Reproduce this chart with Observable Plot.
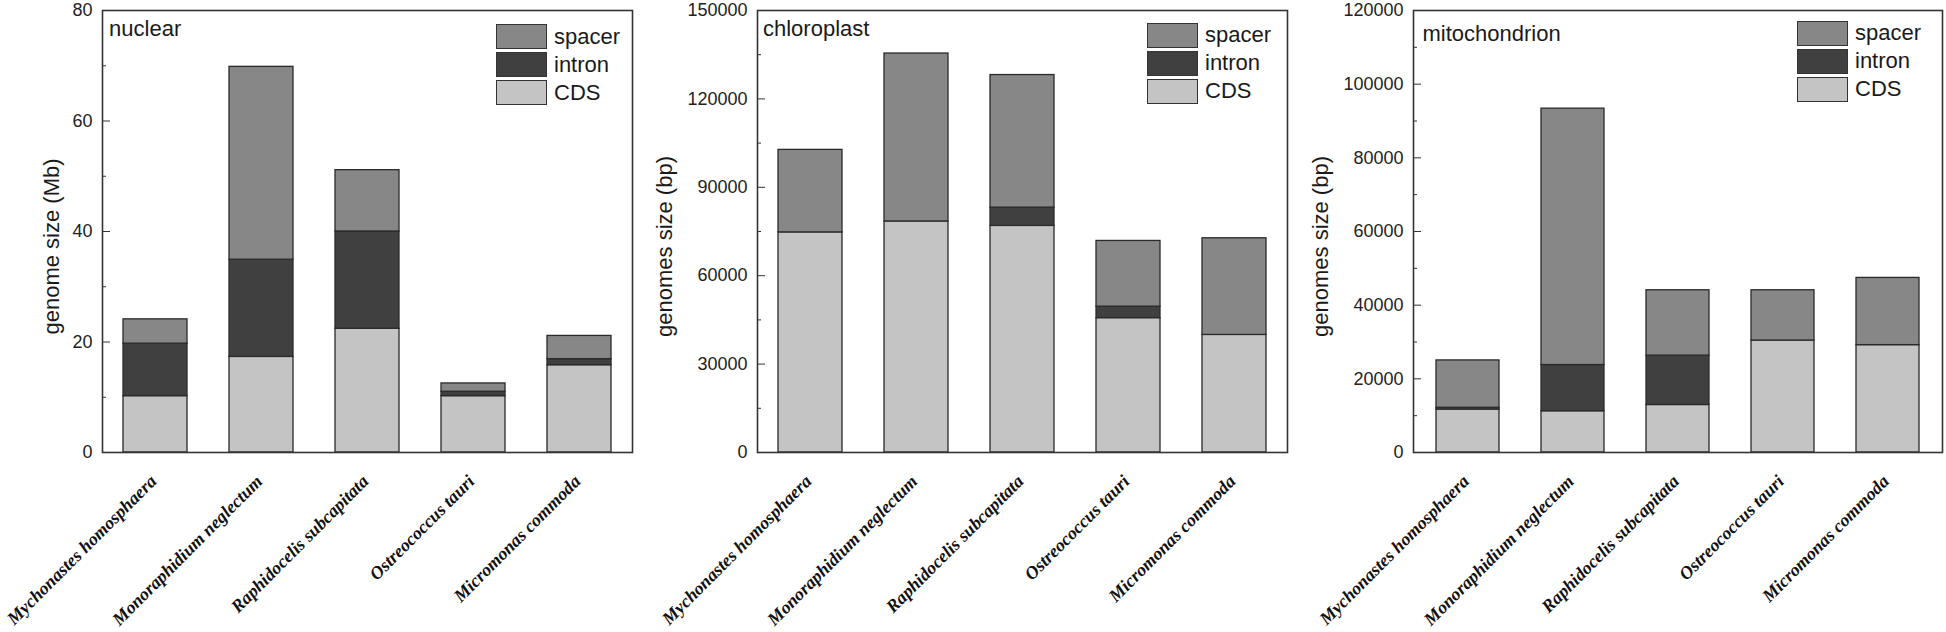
<!DOCTYPE html>
<html><head><meta charset="utf-8">
<script src="https://cdn.jsdelivr.net/npm/d3@7"></script>
<script src="https://cdn.jsdelivr.net/npm/@observablehq/plot@0.6"></script>
<style>
body{margin:0;background:#fff;}
#wrap{position:relative;width:1946px;height:632px;overflow:hidden;font-family:"Liberation Sans",Arial,sans-serif;background:#fff;}
.panel{position:absolute;top:0;}
.panel svg{overflow:visible;}
.legend{position:absolute;}
.legend .row{display:flex;align-items:center;height:28px;}
.legend .sw{width:51px;height:25px;border:1.5px solid #333;box-sizing:border-box;margin-right:7px;}
.legend span{font-size:22px;color:#1a1a1a;line-height:28px;}
</style></head><body><div id="wrap"></div>
<script>
// ---------- data ----------
const species = ["Mychonastes homosphaera","Monoraphidium neglectum","Raphidocelis subcapitata","Ostreococcus tauri","Micromonas commoda"];
const types = ["CDS","intron","spacer"];
const legendOrder = ["spacer","intron","CDS"];
const typeColors = ["#c4c4c4","#404040","#878787"];

const nuclearCDS    = [10.2, 17.3, 22.4, 10.2, 15.8];
const nuclearIntron = [9.5, 17.6, 17.6, 0.8, 1.1];
const nuclearSpacer = [4.4, 34.9, 11.1, 1.5, 4.2];

const chloroplastCDS    = [74700, 78400, 76900, 45600, 39900];
const chloroplastIntron = [0, 0, 6200, 3900, 0];
const chloroplastSpacer = [28000, 57000, 45000, 22300, 32800];

const mitoCDS    = [11650, 11200, 12900, 30400, 29150];
const mitoIntron = [500, 12550, 13400, 0, 0];
const mitoSpacer = [12850, 69600, 17750, 13650, 18250];

const nuclearTicks = [0, 20, 40, 60, 80];
const nuclearMinor = [10, 30, 50, 70];
const chloroplastTicks = [0, 30000, 60000, 90000, 120000, 150000];
const chloroplastMinor = [15000, 45000, 75000, 105000, 135000];
const mitoTicks = [0, 20000, 40000, 60000, 80000, 100000, 120000];
const mitoMinor = [10000, 30000, 50000, 70000, 90000, 110000];

const panelNames = ["nuclear", "chloroplast", "mitochondrion"];
const yLabels = ["genome size (Mb)", "genomes size (bp)", "genomes size (bp)"];

// ---------- layout ----------
const panels = [
  {name: panelNames[0], ylabel: yLabels[0], cds: nuclearCDS, intron: nuclearIntron, spacer: nuclearSpacer,
   ticks: nuclearTicks, minor: nuclearMinor, left: 0, width: 640, ml: 102, mr: 8, titleDx: 6.6, titleBase: 35, ylabDx: -43.5,
   legLeft: 496, legTop: 24.3},
  {name: panelNames[1], ylabel: yLabels[1], cds: chloroplastCDS, intron: chloroplastIntron, spacer: chloroplastSpacer,
   ticks: chloroplastTicks, minor: chloroplastMinor, left: 640, width: 655, ml: 117, mr: 8, titleDx: 5.5, titleBase: 35, ylabDx: -86,
   legLeft: 1147, legTop: 22.7},
  {name: panelNames[2], ylabel: yLabels[2], cds: mitoCDS, intron: mitoIntron, spacer: mitoSpacer,
   ticks: mitoTicks, minor: mitoMinor, left: 1295, width: 651, ml: 118, mr: 4, titleDx: 9, titleBase: 40, ylabDx: -86,
   legLeft: 1797, legTop: 20.7}
];

const wrap = document.getElementById("wrap");
const H = 632, MT = 10, MB = 180;

panels.forEach(p => {
  const rows = [];
  species.forEach((s, i) => {
    rows.push({species: s, type: "CDS", value: p.cds[i]});
    rows.push({species: s, type: "intron", value: p.intron[i]});
    rows.push({species: s, type: "spacer", value: p.spacer[i]});
  });
  const ymax = p.ticks[p.ticks.length - 1];
  const chart = Plot.plot({
    width: p.width, height: H,
    marginLeft: p.ml, marginRight: p.mr, marginTop: MT, marginBottom: MB,
    style: {fontFamily: "'Liberation Sans', Arial, sans-serif", fontSize: "18px", color: "#222", background: "transparent", overflow: "visible"},
    x: {domain: species, paddingInner: 0.4, paddingOuter: 0.2, axis: null},
    y: {domain: [0, ymax], axis: null},
    color: {domain: types, range: typeColors},
    marks: [
      Plot.barY(rows, {x: "species", y: "value", fill: "type", stroke: "#2a2a2a", strokeWidth: 1.3}),
      Plot.frame({stroke: "#333", strokeWidth: 1.6}),
      Plot.axisY(p.ticks, {anchor: "left", tickSize: -8, tickPadding: 18, label: null, tickFormat: d => String(d), fontSize: 18, stroke: "#333"}),
      Plot.axisY(p.minor, {anchor: "left", tickSize: -4, tickFormat: () => "", label: null, stroke: "#333"}),
      Plot.text([p.ylabel], {text: d => d, frameAnchor: "left", rotate: -90, textAnchor: "middle", lineAnchor: "bottom", dx: p.ylabDx, dy: 15, fontSize: 22, fill: "#1a1a1a"}),
      Plot.text([p.name], {text: d => d, frameAnchor: "top-left", textAnchor: "start", lineAnchor: "bottom", dx: p.titleDx, dy: p.titleBase - MT, fontSize: 22, fill: "#1a1a1a"}),
      Plot.text(species, {x: d => d, text: d => d, frameAnchor: "bottom", rotate: -45, textAnchor: "end", lineAnchor: "bottom",
        dx: 2, dy: 30, fontFamily: "'Liberation Serif', 'Times New Roman', serif", fontStyle: "italic", fontWeight: "bold", fontSize: 18, fill: "#111"})
    ]
  });
  const div = document.createElement("div");
  div.className = "panel";
  div.style.left = p.left + "px";
  div.appendChild(chart);
  wrap.appendChild(div);

  const leg = document.createElement("div");
  leg.className = "legend";
  leg.style.left = p.legLeft + "px";
  leg.style.top = (p.legTop - 1.5) + "px";
  legendOrder.forEach(t => {
    const r = document.createElement("div");
    r.className = "row";
    const sw = document.createElement("div");
    sw.className = "sw";
    sw.style.background = typeColors[types.indexOf(t)];
    const sp = document.createElement("span");
    sp.textContent = t;
    r.appendChild(sw); r.appendChild(sp);
    leg.appendChild(r);
  });
  wrap.appendChild(leg);
});
</script></body></html>
